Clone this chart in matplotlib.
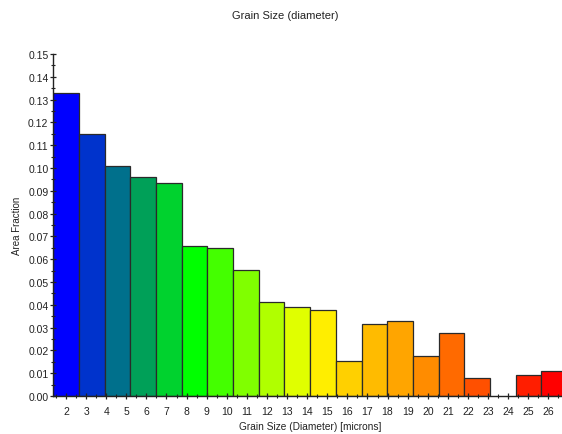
import matplotlib
matplotlib.use("Agg")
import matplotlib.pyplot as plt
import numpy as np

plt.rcParams['font.family'] = ['Liberation Sans', 'DejaVu Sans']

# Histogram of grain diameters: 20 equal-width bins
bin_start = 1.37      # microns, left edge of first bin
bin_width = 1.278     # microns
area_fraction = [0.1328, 0.1149, 0.1010, 0.0962, 0.0936, 0.0657, 0.0648,
                 0.0553, 0.0412, 0.0392, 0.0377, 0.0152, 0.0316, 0.0329,
                 0.0177, 0.0276, 0.0078, 0.0000, 0.0094, 0.0108]
bar_colors = ['#0000ff', '#0033cc', '#00708c', '#00a058', '#00d22e',
              '#00ff00', '#44ff00', '#80ff00', '#b0ff00', '#e0ff00',
              '#ffee00', '#ffd000', '#ffbb00', '#ffa500', '#ff8c00',
              '#ff6a00', '#ff5000', '#ffffff', '#ff1e00', '#ff0000']
x_ticks = list(range(2, 27))
y_ticks = [round(0.01 * i, 2) for i in range(16)]

W, H = 562, 435
fig = plt.figure(figsize=(W / 100, H / 100), dpi=100)
x_left, x_right = bin_start, 27.0
px_per_unit = 20.1
ax_left_px, ax_bottom_px, ax_top_px = 53.3, 397.0, 55.0
ax_w_px = (x_right - x_left) * px_per_unit
ax = fig.add_axes([ax_left_px / W, (H - ax_bottom_px) / H,
                   ax_w_px / W, (ax_bottom_px - ax_top_px) / H])

lefts = bin_start + bin_width * np.arange(len(area_fraction))
for x0, h, c in zip(lefts, area_fraction, bar_colors):
    if h > 0:
        ax.bar(x0, h, width=bin_width, align='edge', color=c,
               edgecolor='#2a2a2a', linewidth=0.9)

ax.set_xlim(x_left, x_right)
ax.set_ylim(0, 0.15)
ax.set_xticks(x_ticks)
ax.set_xticklabels([str(t) for t in x_ticks])
ax.set_xticks(np.arange(1.5, 27.0, 0.5), minor=True)
ax.set_yticks(y_ticks)
ax.set_yticklabels([f"{t:.2f}" for t in y_ticks])
ax.set_yticks(np.arange(0.005, 0.15, 0.01), minor=True)

for s in ['top', 'right']:
    ax.spines[s].set_visible(False)
for s in ['left', 'bottom']:
    ax.spines[s].set_color('#222222')
    ax.spines[s].set_linewidth(1.0)

ax.tick_params(axis='both', which='major', direction='inout', length=5,
               width=0.9, labelsize=7.5, colors='#222222')
ax.tick_params(axis='both', which='minor', direction='inout', length=3,
               width=0.8, colors='#222222')
ax.tick_params(axis='x', which='major', pad=5)
ax.tick_params(axis='y', which='major', pad=1)

fig.text(285 / W, 1 - 16 / H, 'Grain Size (diameter)', ha='center',
         va='center', fontsize=8, color='#222222')
fig.text(17 / W, 1 - 226 / H, 'Area Fraction', ha='center', va='center',
         rotation=90, fontsize=7, color='#222222')
fig.text(310 / W, 1 - 427 / H, 'Grain Size (Diameter) [microns]',
         ha='center', va='center', fontsize=7.3, color='#222222')

fig.savefig('out.png', dpi=100)
